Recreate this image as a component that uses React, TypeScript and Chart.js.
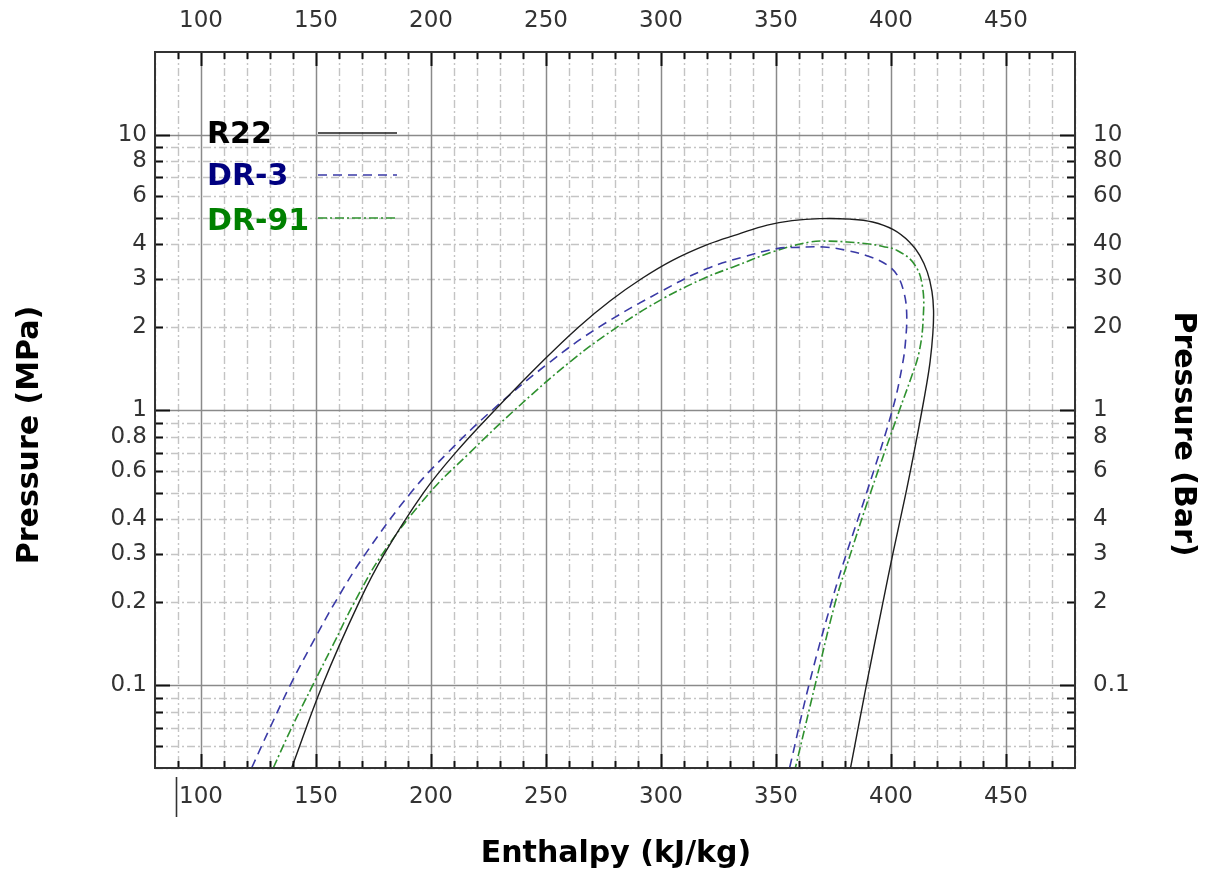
import React, { useEffect, useRef } from 'react';
import { Chart, registerables } from 'chart.js';

Chart.register(...registerables);

// ---- data (enthalpy kJ/kg, pressure MPa) ----
const R22_H = [139.4, 152.8, 168.7, 179.7, 196.7, 210.7, 227.8, 248.4, 264.1, 278.1, 291.5, 305, 320.4, 333.4, 346.2, 357, 369, 382, 392, 401, 408, 412.5, 415.8, 417.8, 418.5, 418.2, 417, 415.2, 413.5, 410, 406.5, 400.8, 396.5, 389.3, 382.4];
const R22_P = [0.05, 0.1, 0.2, 0.3, 0.5, 0.7, 1.0, 1.5, 2.0, 2.5, 3.0, 3.5, 4.0, 4.35, 4.7, 4.88, 4.96, 4.94, 4.82, 4.52, 4.08, 3.65, 3.17, 2.7, 2.3, 1.9, 1.5, 1.2, 1.0, 0.7, 0.5, 0.3, 0.2, 0.1, 0.05];

const DR3_H = [122, 130, 138.8, 148, 158.3, 171.5, 191.2, 207.3, 226.7, 252, 273, 300.8, 319.8, 335.8, 350.4, 360, 370.7, 380.9, 391.1, 398.4, 402.7, 405.6, 406.8, 406.4, 404.9, 400.6, 389.4, 380.6, 374.1, 364.3, 355.9];
const DR3_P = [0.05, 0.07, 0.1, 0.14, 0.2, 0.3, 0.5, 0.7, 1.0, 1.5, 2.0, 2.72, 3.26, 3.6, 3.86, 3.9, 3.91, 3.8, 3.6, 3.36, 3.09, 2.68, 2.27, 1.81, 1.45, 1.0, 0.5, 0.3, 0.2, 0.1, 0.05];

const DR91_H = [131.4, 139.4, 148.6, 157.4, 166.7, 178.9, 199.4, 216.9, 236.4, 260.6, 280.9, 300.9, 319.5, 331.4, 350.4, 364.9, 372.2, 381, 389.6, 396.5, 402.7, 410, 413.6, 414, 412.2, 408.6, 403.7, 391.1, 382.4, 375.8, 367, 358.4];
const DR91_P = [0.05, 0.07, 0.1, 0.14, 0.2, 0.3, 0.5, 0.7, 1.0, 1.5, 2.0, 2.54, 3.03, 3.31, 3.8, 4.08, 4.11, 4.08, 4.02, 3.93, 3.8, 3.4, 2.84, 2.15, 1.62, 1.3, 1.0, 0.5, 0.3, 0.2, 0.1, 0.05];

const SERIES_NAMES = ['R22', 'DR-3', 'DR-91'];

// ---- axes ----
const X_MIN = 80;
const X_MAX = 480;
const X_LABEL_TICKS = [100, 150, 200, 250, 300, 350, 400, 450];
const X_STEP_MINOR = 10;
const X_STEP_MAJOR = 50;

const Y_MIN = 0.05;
const Y_MAX = 20;
const Y_TICKS = [0.1, 0.2, 0.3, 0.4, 0.6, 0.8, 1, 2, 3, 4, 6, 8, 10];
const MPA_LABELS = ['0.1', '0.2', '0.3', '0.4', '0.6', '0.8', '1', '2', '3', '4', '6', '8', '10'];
const BAR_LABELS = ['0.1', '2', '3', '4', '6', '8', '1', '20', '30', '40', '60', '80', '10'];
const Y_MAJOR = [0.1, 1, 10];
const Y_MINOR = [0.05, 0.06, 0.07, 0.08, 0.09, 0.2, 0.3, 0.4, 0.5, 0.6, 0.7, 0.8, 0.9, 2, 3, 4, 5, 6, 7, 8, 9];

const X_TITLE = 'Enthalpy (kJ/kg)';
const Y_TITLE = 'Pressure (MPa)';
const Y2_TITLE = 'Pressure (Bar)';

const FONT = "'DejaVu Sans', 'Liberation Sans', sans-serif";
const TICK_FONT = { family: FONT, size: 23 };
const TICK_COLOR = '#333';

const toPoints = (h: number[], p: number[]) => h.map((v, i) => ({ x: v, y: p[i] }));

const phPlugin = {
  id: 'phDecor',
  beforeDatasetsDraw(chart: any) {
    const { ctx, chartArea: a, scales } = chart;
    const xs = scales.x;
    const ys = scales.y;
    ctx.save();
    ctx.lineWidth = 1.4;
    ctx.strokeStyle = '#c4c4c4';
    ctx.setLineDash([8, 3, 2, 3]);
    for (let v = X_MIN; v <= X_MAX; v += X_STEP_MINOR) {
      if (v % X_STEP_MAJOR === 0) continue;
      const px = Math.round(xs.getPixelForValue(v)) + 0.5;
      ctx.beginPath(); ctx.moveTo(px, a.top); ctx.lineTo(px, a.bottom); ctx.stroke();
    }
    for (const v of Y_MINOR) {
      const py = Math.round(ys.getPixelForValue(v)) + 0.5;
      ctx.beginPath(); ctx.moveTo(a.left, py); ctx.lineTo(a.right, py); ctx.stroke();
    }
    ctx.setLineDash([]);
    ctx.strokeStyle = '#8a8a8a';
    ctx.lineWidth = 1.5;
    for (let v = X_MIN; v <= X_MAX; v += X_STEP_MINOR) {
      if (v % X_STEP_MAJOR !== 0) continue;
      const px = Math.round(xs.getPixelForValue(v)) + 0.5;
      ctx.beginPath(); ctx.moveTo(px, a.top); ctx.lineTo(px, a.bottom); ctx.stroke();
    }
    for (const v of Y_MAJOR) {
      const py = Math.round(ys.getPixelForValue(v)) + 0.5;
      ctx.beginPath(); ctx.moveTo(a.left, py); ctx.lineTo(a.right, py); ctx.stroke();
    }
    ctx.restore();
  },
  afterDatasetsDraw(chart: any) {
    const { ctx, chartArea: a, scales } = chart;
    const xs = scales.x;
    const ys = scales.y;
    ctx.save();
    ctx.strokeStyle = '#111';
    ctx.lineWidth = 2;
    for (let v = X_MIN + X_STEP_MINOR; v < X_MAX; v += X_STEP_MINOR) {
      const len = v % X_STEP_MAJOR === 0 ? 14 : 7;
      const px = Math.round(xs.getPixelForValue(v)) + 0.5;
      ctx.beginPath(); ctx.moveTo(px, a.top); ctx.lineTo(px, a.top + len); ctx.stroke();
      ctx.beginPath(); ctx.moveTo(px, a.bottom); ctx.lineTo(px, a.bottom - len); ctx.stroke();
    }
    const yAll = [...Y_MINOR.map((v) => [v, 8]), ...Y_MAJOR.map((v) => [v, 15])];
    for (const [v, len] of yAll) {
      if (v <= Y_MIN) continue;
      const py = Math.round(ys.getPixelForValue(v)) + 0.5;
      ctx.beginPath(); ctx.moveTo(a.left, py); ctx.lineTo(a.left + len, py); ctx.stroke();
      ctx.beginPath(); ctx.moveTo(a.right, py); ctx.lineTo(a.right - len, py); ctx.stroke();
    }
    ctx.strokeStyle = '#333';
    ctx.lineWidth = 2;
    ctx.strokeRect(a.left, a.top, a.right - a.left, a.bottom - a.top);
    ctx.restore();
  },
  afterDraw(chart: any) {
    const { ctx, chartArea: a, scales } = chart;
    const xs = scales.x;
    ctx.save();
    const bx = xs.getPixelForValue(90) - 1.5;
    ctx.strokeStyle = '#333';
    ctx.lineWidth = 1.6;
    ctx.beginPath(); ctx.moveTo(bx, a.bottom + 9); ctx.lineTo(bx, a.bottom + 49); ctx.stroke();

    const textColors = ['#000000', '#000080', '#008000'];
    const baselines = [143, 185, 230];
    const lineYs = [133, 175, 218];
    ctx.font = `bold 30px ${FONT}`;
    ctx.textAlign = 'left';
    ctx.textBaseline = 'alphabetic';
    chart.data.datasets.forEach((ds: any, i: number) => {
      ctx.fillStyle = textColors[i];
      ctx.fillText(ds.label, 207, baselines[i]);
      ctx.strokeStyle = ds.borderColor;
      ctx.lineWidth = ds.borderWidth;
      ctx.setLineDash(ds.borderDash || []);
      ctx.beginPath(); ctx.moveTo(318, lineYs[i]); ctx.lineTo(397, lineYs[i]); ctx.stroke();
    });
    ctx.setLineDash([]);

    ctx.fillStyle = '#000';
    ctx.font = `bold 30px ${FONT}`;
    ctx.textAlign = 'center';
    ctx.textBaseline = 'alphabetic';
    ctx.fillText(X_TITLE, (a.left + a.right) / 2 + 1, 862);

    ctx.textBaseline = 'middle';
    ctx.save();
    ctx.translate(30, 435);
    ctx.rotate(-Math.PI / 2);
    ctx.fillText(Y_TITLE, 0, 0);
    ctx.restore();

    ctx.save();
    ctx.translate(1183, 434);
    ctx.rotate(Math.PI / 2);
    ctx.fillText(Y2_TITLE, 0, 0);
    ctx.restore();
    ctx.restore();
  },
};

export default function App() {
  const ref = useRef<HTMLCanvasElement | null>(null);

  useEffect(() => {
    if (!ref.current) return;
    const xTicks = (s: any) => { s.ticks = X_LABEL_TICKS.map((v) => ({ value: v })); };
    const yTicks = (s: any) => { s.ticks = Y_TICKS.map((v) => ({ value: v })); };
    const chart = new Chart(ref.current, {
      type: 'scatter',
      data: {
        datasets: [
          { label: SERIES_NAMES[0], data: toPoints(R22_H, R22_P), showLine: true, borderColor: '#1e1e1e', borderWidth: 1.4, pointRadius: 0, tension: 0.4, fill: false },
          { label: SERIES_NAMES[1], data: toPoints(DR3_H, DR3_P), showLine: true, borderColor: '#3a3aa6', borderWidth: 1.6, borderDash: [9, 6], pointRadius: 0, tension: 0.4, fill: false },
          { label: SERIES_NAMES[2], data: toPoints(DR91_H, DR91_P), showLine: true, borderColor: '#2f912f', borderWidth: 1.6, borderDash: [9, 3, 2, 3], pointRadius: 0, tension: 0.4, fill: false },
        ],
      },
      options: {
        responsive: false,
        animation: false,
        devicePixelRatio: 1,
        layout: { padding: 0 },
        plugins: { legend: { display: false }, tooltip: { enabled: false } },
        scales: {
          x: {
            type: 'linear', axis: 'x', position: 'bottom', min: X_MIN, max: X_MAX,
            afterBuildTicks: xTicks,
            afterFit: (s: any) => { s.height = 102; },
            ticks: { font: TICK_FONT, color: TICK_COLOR, padding: 15, maxRotation: 0, autoSkip: false, callback: (v: any) => String(v) },
            grid: { display: false, drawTicks: false },
            border: { display: false },
          },
          x2: {
            type: 'linear', axis: 'x', position: 'top', min: X_MIN, max: X_MAX,
            afterBuildTicks: xTicks,
            afterFit: (s: any) => { s.height = 52; },
            ticks: { font: TICK_FONT, color: TICK_COLOR, padding: 17, maxRotation: 0, autoSkip: false, callback: (v: any) => String(v) },
            grid: { display: false, drawTicks: false },
            border: { display: false },
          },
          y: {
            type: 'logarithmic', axis: 'y', position: 'left', min: Y_MIN, max: Y_MAX,
            afterBuildTicks: yTicks,
            afterFit: (s: any) => { s.width = 155; },
            ticks: { font: TICK_FONT, color: TICK_COLOR, padding: 8, autoSkip: false, callback: (v: any) => MPA_LABELS[Y_TICKS.indexOf(v)] ?? '' },
            grid: { display: false, drawTicks: false },
            border: { display: false },
          },
          y2: {
            type: 'logarithmic', axis: 'y', position: 'right', min: Y_MIN, max: Y_MAX,
            afterBuildTicks: yTicks,
            afterFit: (s: any) => { s.width = 130; },
            ticks: { font: TICK_FONT, color: TICK_COLOR, padding: 18, autoSkip: false, callback: (v: any) => BAR_LABELS[Y_TICKS.indexOf(v)] ?? '' },
            grid: { display: false, drawTicks: false },
            border: { display: false },
          },
        },
      } as any,
      plugins: [phPlugin],
    });
    return () => chart.destroy();
  }, []);

  return (
    <div style={{ position: 'fixed', left: 0, top: 0, width: 1205, height: 870, background: '#fff' }}>
      <canvas ref={ref} width={1205} height={870} style={{ width: 1205, height: 870, display: 'block' }} />
    </div>
  );
}
